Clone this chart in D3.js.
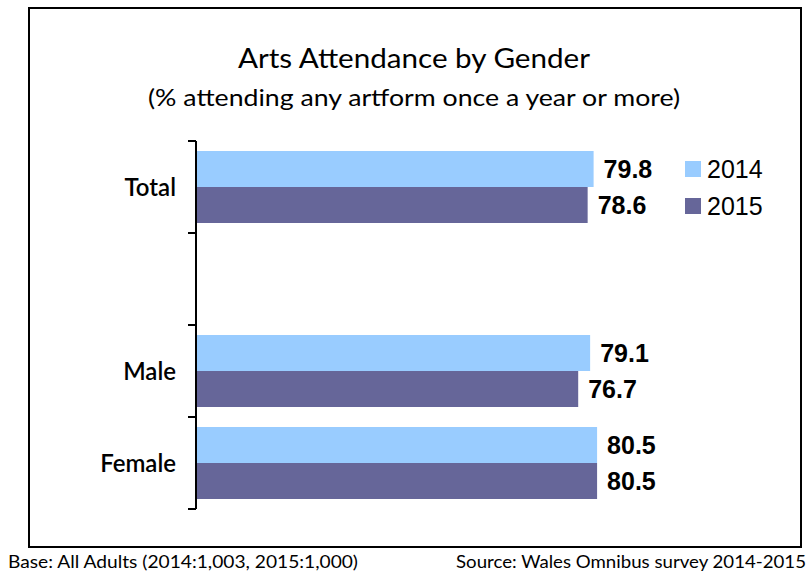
<!DOCTYPE html>
<html>
<head>
<meta charset="utf-8">
<script src="https://cdn.jsdelivr.net/npm/d3@7"></script>
<style>
  html, body { margin: 0; padding: 0; background: #fff; }
  svg { display: block; }
  .futura { font-family: Lato, "Open Sans", sans-serif; }
</style>
</head>
<body>
<svg id="chart" width="809" height="574"></svg>
<script>
// Categories (the blank entry keeps the gap between Total and Male)
const categories = ["Total", "", "Male", "Female"];
const seriesNames = ["2014", "2015"];
const values2014 = [79.8, null, 79.1, 80.5];
const values2015 = [78.6, null, 76.7, 80.5];
const seriesColors = ["#99CCFF", "#666699"];

const titleText = "Arts Attendance by Gender";
const subtitleText = "(% attending any artform once a year or more)";
const baseNote = "Base: All Adults (2014:1,003, 2015:1,000)";
const sourceNote = "Source: Wales Omnibus survey 2014-2015";

const svg = d3.select("#chart");

// Outer frame
svg.append("rect")
  .attr("x", 29).attr("y", 8)
  .attr("width", 772).attr("height", 539)
  .attr("fill", "#fff").attr("stroke", "#000").attr("stroke-width", 2);

// Titles
svg.append("text").attr("class", "futura")
  .attr("x", 414).attr("y", 68)
  .attr("text-anchor", "middle")
  .attr("font-size", 27)
  .attr("textLength", 352).attr("lengthAdjust", "spacingAndGlyphs")
  .text(titleText);

svg.append("text").attr("class", "futura")
  .attr("x", 414).attr("y", 106)
  .attr("text-anchor", "middle")
  .attr("font-size", 23)
  .attr("textLength", 532).attr("lengthAdjust", "spacingAndGlyphs")
  .text(subtitleText);

// Scales
const x = d3.scaleLinear().domain([0, 100]).range([197, 694]);
const y = d3.scaleBand().domain(categories).range([141, 509])
  .paddingInner(20 / 92).paddingOuter(10 / 92);
const ySub = d3.scaleBand().domain(seriesNames).range([0, y.bandwidth()]);

const rows = categories.map((c, i) => ({
  cat: c,
  vals: [values2014[i], values2015[i]]
}));

// Bars with value labels
const g = svg.append("g");
rows.forEach(r => {
  r.vals.forEach((v, j) => {
    if (v == null) return;
    const yy = y(r.cat) + ySub(seriesNames[j]);
    g.append("rect")
      .attr("x", x(0)).attr("y", yy)
      .attr("width", x(v) - x(0)).attr("height", ySub.bandwidth())
      .attr("fill", seriesColors[j]);
    g.append("text")
      .attr("x", x(v) + 10)
      .attr("y", yy + ySub.bandwidth() / 2)
      .attr("dy", "0.36em")
      .attr("font-family", "Liberation Sans, Arial, sans-serif")
      .attr("font-weight", "bold")
      .attr("font-size", 25)
      .attr("fill", "#000")
      .text(v.toFixed(1));
  });
});

// Vertical axis: line, tick marks at band boundaries, category labels
const axisX = 196;
const step = y.step();
const edges = d3.range(categories.length + 1).map(i => y.range()[0] + i * step);
svg.append("line")
  .attr("x1", axisX).attr("x2", axisX)
  .attr("y1", edges[0]).attr("y2", edges[edges.length - 1])
  .attr("stroke", "#000").attr("stroke-width", 2);
svg.selectAll(".tickmark").data(edges).join("line")
  .attr("x1", axisX - 8).attr("x2", axisX)
  .attr("y1", d => d).attr("y2", d => d)
  .attr("stroke", "#000").attr("stroke-width", 2);

svg.selectAll(".catlabel").data(categories).join("text")
  .attr("class", "futura")
  .attr("x", 176)
  .attr("y", d => y(d) + y.bandwidth() / 2)
  .attr("dy", "0.36em")
  .attr("text-anchor", "end")
  .attr("font-size", 24)
  .attr("font-weight", 600)
  .text(d => d);

// Legend
const legend = svg.append("g");
seriesNames.forEach((s, i) => {
  const ly = 169 + i * 37;
  legend.append("rect")
    .attr("x", 685).attr("y", ly - 8)
    .attr("width", 16).attr("height", 16)
    .attr("fill", seriesColors[i]);
  legend.append("text")
    .attr("x", 707).attr("y", ly)
    .attr("dy", "0.36em")
    .attr("font-family", "Liberation Sans, Arial, sans-serif")
    .attr("font-size", 25)
    .text(s);
});

// Footer notes
svg.append("text").attr("class", "futura")
  .attr("x", 8).attr("y", 568)
  .attr("font-size", 17)
  .attr("textLength", 350).attr("lengthAdjust", "spacingAndGlyphs")
  .text(baseNote);
svg.append("text").attr("class", "futura")
  .attr("x", 806).attr("y", 568)
  .attr("text-anchor", "end")
  .attr("font-size", 17)
  .attr("textLength", 350).attr("lengthAdjust", "spacingAndGlyphs")
  .text(sourceNote);
</script>
</body>
</html>
